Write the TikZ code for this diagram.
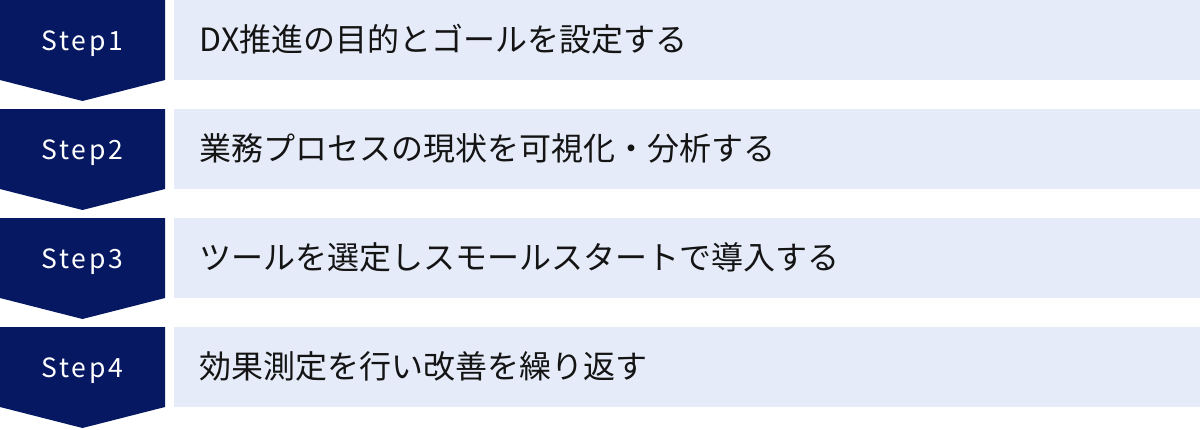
\documentclass[tikz,border=0pt]{standalone}
\usepackage{fontspec}
\setmainfont{Noto Sans CJK JP}
\newfontfamily\stepfont[LetterSpace=11]{Noto Sans CJK JP}
\definecolor{navy}{RGB}{6,24,98}
\definecolor{lightbox}{RGB}{229,235,248}
\definecolor{ink}{RGB}{20,20,20}
\begin{document}
\begin{tikzpicture}[x=1pt,y=-1pt,
  stepshape/.style={fill=navy,draw=none},
  barbox/.style={fill=lightbox,draw=none},
  steplabel/.style={anchor=base,inner sep=0pt,text=white,font=\stepfont\fontsize{26.5pt}{30pt}\selectfont},
  barlabel/.style={anchor=base west,inner sep=0pt,text=ink,font=\fontsize{32pt}{36pt}\selectfont}]
\useasboundingbox (0,0) rectangle (1200,429);
\foreach \i/\t in {0/{DX推進の目的とゴールを設定する},1/{業務プロセスの現状を可視化・分析する},2/{ツールを選定しスモールスタートで導入する},3/{効果測定を行い改善を繰り返す}}{
  \pgfmathsetmacro{\top}{109*\i}
  \pgfmathtruncatemacro{\n}{\i+1}
  \path[stepshape] (0,\top) -- (165,\top) -- (165,\top+80) -- (82.5,\top+101) -- (0,\top+80) -- cycle;
  \path[barbox] (174,\top) rectangle (1200,\top+80);
  \node[steplabel] (s\n) at (82.5,\top+50.5) {Step\n};
  \node[barlabel] (b\n) at (199.5,\top+51.8) {\t};
}
\end{tikzpicture}
\end{document}
